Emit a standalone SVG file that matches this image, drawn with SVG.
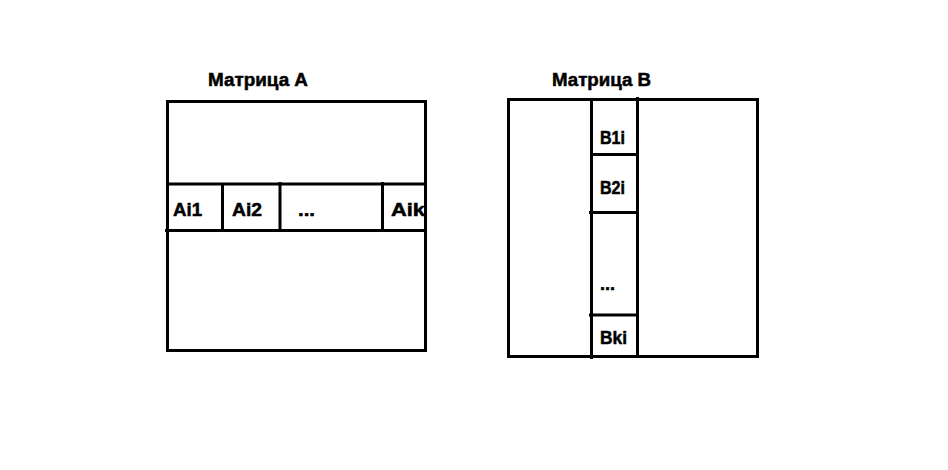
<svg xmlns="http://www.w3.org/2000/svg" width="948" height="470" viewBox="0 0 948 470">
<style>
.ln{stroke:#000;stroke-width:3;fill:none}
.t{font-family:"Liberation Sans",Arial,sans-serif;font-weight:bold;font-size:18px;fill:#000;stroke:#000;stroke-width:0.5}
</style>
<rect width="948" height="470" fill="#fff"/>
<g id="matrixA">
<text class="t" x="208" y="86" textLength="100" lengthAdjust="spacingAndGlyphs">Матрица A</text>
<rect class="ln" x="167.5" y="101.5" width="258" height="249"/>
<line class="ln" x1="166" y1="184" x2="427" y2="184"/>
<line class="ln" x1="165" y1="230.5" x2="427" y2="230.5"/>
<line class="ln" x1="222.5" y1="184" x2="222.5" y2="231"/>
<line class="ln" x1="280" y1="182" x2="280" y2="232"/>
<line class="ln" x1="382.5" y1="182" x2="382.5" y2="232"/>
<g id="Ai1"><text class="t" x="173" y="216" textLength="29" lengthAdjust="spacingAndGlyphs">Ai1</text></g>
<g id="Ai2"><text class="t" x="232" y="216" textLength="30" lengthAdjust="spacingAndGlyphs">Ai2</text></g>
<g id="Adots"><text class="t" x="298" y="216" textLength="17" lengthAdjust="spacingAndGlyphs">...</text></g>
<g id="Aik"><text class="t" x="391" y="216" textLength="34" lengthAdjust="spacingAndGlyphs">Aik</text></g>
<line class="ln" x1="425.5" y1="184" x2="425.5" y2="231"/>
</g>
<g id="matrixB">
<text class="t" x="552" y="86" textLength="99" lengthAdjust="spacingAndGlyphs">Матрица B</text>
<rect class="ln" x="508.5" y="99.5" width="249" height="257"/>
<line class="ln" x1="591.5" y1="100" x2="591.5" y2="359"/>
<line class="ln" x1="637.5" y1="97" x2="637.5" y2="357"/>
<line class="ln" x1="591" y1="154.5" x2="638" y2="154.5"/>
<line class="ln" x1="589" y1="212.5" x2="639" y2="212.5"/>
<line class="ln" x1="589" y1="315" x2="639" y2="315"/>
<g id="B1i"><text class="t" x="600" y="144" textLength="25" lengthAdjust="spacingAndGlyphs">B1i</text></g>
<g id="B2i"><text class="t" x="600" y="194" textLength="25" lengthAdjust="spacingAndGlyphs">B2i</text></g>
<g id="Bdots"><text class="t" x="600" y="290" textLength="15" lengthAdjust="spacingAndGlyphs">...</text></g>
<g id="Bki"><text class="t" x="600" y="344" textLength="27" lengthAdjust="spacingAndGlyphs">Bki</text></g>
</g>
</svg>
